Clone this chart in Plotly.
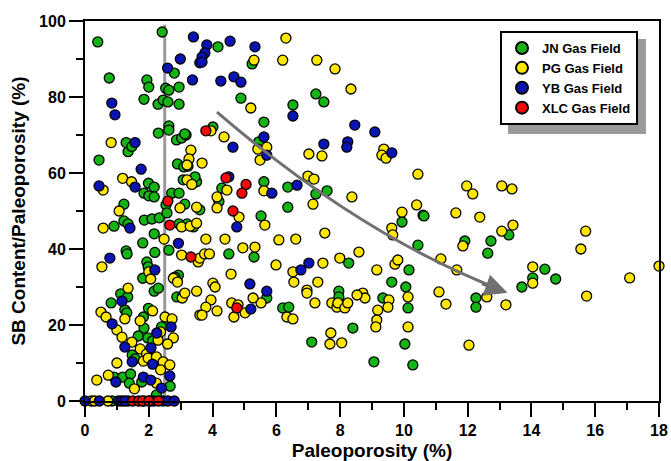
import plotly.graph_objects as go

# ---------------- data (Paleoporosity %, SB content/Paleoporosity %) ----------------
jn_x = [0.40, 2.42, 0.76, 1.29, 1.35, 1.47, 0.44, 1.99, 2.17, 1.85, 2.00, 2.17, 1.22, 1.94, 2.00, 1.85, 2.29, 2.45,
        2.60, 2.53, 2.63, 2.95, 2.95, 2.80, 2.30, 2.63, 2.63, 2.87, 3.03, 3.17, 2.90, 3.10, 3.23, 3.08, 3.50, 2.54,
        2.72, 2.95, 3.13, 1.86, 2.10, 2.33, 2.57, 0.91, 1.22, 1.35, 2.95, 3.20, 3.40,
        2.17, 1.81, 1.29, 1.32, 2.19, 2.63, 1.94, 1.98, 1.81, 2.17, 2.30, 2.93, 2.82, 2.88, 3.06, 0.82, 1.12, 1.34,
        1.25, 1.31, 1.83, 1.99, 1.85, 2.61, 1.67, 1.97, 2.12, 2.40, 1.48, 1.57, 0.91, 1.18, 1.43, 1.39, 1.78, 2.67,
        2.24,
        4.17, 5.24, 4.89, 7.24, 7.49, 6.52, 5.61, 4.01, 5.45, 3.13, 3.45, 4.29, 4.20, 5.61, 5.52, 6.36, 6.36, 7.24,
        7.59, 9.94, 10.60, 3.60, 10.44, 5.30, 4.51, 8.27, 10.16, 9.62, 10.06, 10.13, 10.03, 10.28, 9.06, 9.34, 8.40,
        7.96, 7.96, 7.11, 6.20, 6.39, 5.70, 10.63, 13.29, 11.91, 12.73, 12.63, 12.26, 12.26, 13.70, 14.04, 14.42,
        14.76,
        0.85, 1.35, 2.05]
jn_y = [94.5, 97.1, 85.0, 68.0, 65.6, 67.0, 63.4, 57.3, 56.3, 54.7, 54.0, 53.7, 51.8, 84.5, 82.6, 79.4, 78.1, 79.2,
        78.7, 82.3, 81.8, 82.6, 78.1, 86.3, 70.5, 72.4, 71.3, 68.7, 69.2, 70.0, 62.4, 61.6, 61.8, 58.2, 57.7, 51.6,
        54.7, 54.7, 51.8, 47.6, 47.9, 48.2, 49.5, 46.0, 47.4, 46.6, 46.6, 46.6, 45.8,
        44.0, 41.6, 39.5, 38.7, 39.1, 39.7, 36.6, 35.3, 32.3, 28.9, 29.7, 33.1, 32.6, 27.4, 27.6, 25.8, 28.2, 27.4,
        24.0, 23.2, 22.1, 24.4, 19.2, 20.8, 17.1, 16.6, 15.8, 19.5, 12.1, 11.1, 6.3, 6.3, 7.1, 4.7, 5.0, 3.9,
        1.6,
        93.2, 88.7, 79.7, 80.8, 78.7, 77.9, 73.4, 72.1, 68.2, 70.3, 59.0, 56.0, 52.5, 57.7, 48.7, 56.3, 51.0, 54.5,
        55.3, 47.1, 48.9, 50.3, 41.0, 37.9, 38.7, 36.3, 34.5, 31.3, 30.0, 24.5, 15.0, 9.5, 10.3, 27.1, 19.2,
        28.9, 27.4, 15.5, 24.5, 24.7, 27.1, 48.7, 43.7, 42.1, 42.1, 38.9, 27.1, 24.7, 30.0, 32.4, 34.7,
        32.1,
        0.0, 0.0, 0.0]

pg_x = [0.82, 0.57, 1.18, 1.46, 1.07, 3.32, 3.26, 3.20, 3.67, 3.20, 3.35, 2.98, 3.50, 0.57, 3.03, 3.30, 3.50, 2.48,
        3.03, 3.55, 0.53, 2.00, 2.06, 2.77, 2.90, 3.50, 3.05, 3.60, 1.35, 1.25, 0.50, 0.66, 1.00, 1.73, 2.12, 2.51,
        2.73, 1.16, 1.47, 2.37, 2.77, 2.59, 1.73, 1.93, 1.83, 1.98, 1.00, 2.24, 2.45, 2.37, 0.73, 0.37, 1.55, 2.24,
        2.29, 2.66, 3.13,
        6.30, 5.30, 6.20, 7.27, 7.84, 8.34, 5.20, 3.95, 4.36, 5.42, 5.70, 5.49, 7.02, 7.43, 9.37, 9.31, 9.44, 10.44,
        4.45, 4.14, 4.14, 4.83, 5.61, 5.64, 6.99, 7.18, 7.15, 8.37, 9.94, 10.40, 9.62, 7.52, 9.65, 3.79, 4.39, 4.95,
        5.33, 6.08, 6.61, 3.60, 3.75, 3.90, 4.58, 5.99, 6.52, 6.55, 7.46, 7.99, 8.59, 9.15, 9.72, 9.81, 10.13, 10.13,
        9.53, 9.50, 9.18, 9.15, 9.12, 8.71, 8.78, 8.53, 7.74, 7.90, 7.93, 8.15, 8.24, 7.21, 7.30, 6.96, 6.96, 7.71,
        7.68, 8.05, 6.33, 6.52, 5.52, 5.27, 4.60, 4.80, 5.02, 4.67, 4.01, 4.08, 3.95, 3.79, 3.67, 4.14,
        11.97, 12.16, 13.07, 13.39, 11.63, 12.38, 13.07, 13.42, 11.85, 11.16, 11.66, 11.10, 11.32, 12.60, 13.20,
        12.04, 14.04, 14.04, 15.70, 15.55, 15.73, 17.08, 18.00,
        0.20, 0.30, 0.72]
pg_y = [68.0, 55.5, 58.6, 57.7, 50.0, 66.0, 63.7, 62.1, 62.6, 58.2, 57.0, 50.8, 51.0, 45.5, 45.8, 46.0, 46.8, 42.6,
        38.4, 36.6, 35.3, 34.0, 32.1, 32.3, 31.3, 28.9, 27.1, 22.6, 29.7, 21.6, 23.4, 22.1, 18.7, 21.1, 23.7, 22.1,
        21.6, 16.8, 15.5, 18.2, 16.6, 15.0, 13.7, 12.4, 10.5, 11.3, 10.0, 11.6, 10.3, 8.2, 6.8, 5.5, 3.2, 4.7,
        16.0, 9.5, 28.4,
        95.5, 89.7, 89.7, 89.7, 87.4, 82.1, 77.1, 71.1, 69.5, 66.3, 66.8, 63.4, 65.0, 64.5, 66.3, 64.7, 63.9, 59.7,
        55.5, 53.7, 50.8, 48.4, 55.3, 46.3, 59.2, 58.4, 51.8, 53.7, 49.7, 51.6, 45.5, 44.2, 43.7, 42.6, 42.6, 40.3,
        40.5, 42.4, 42.6, 37.6, 38.7, 38.7, 33.4, 35.8, 34.0, 31.3, 36.3, 37.6, 39.2, 34.5, 36.0, 37.1, 27.4, 19.5,
        26.6, 24.7, 23.9, 21.3, 19.5, 28.4, 27.1, 27.9, 25.8, 24.7, 25.8, 24.5, 25.8, 25.8, 31.3, 29.2, 28.4, 17.9,
        15.0, 15.3, 22.1, 21.6, 25.8, 27.1, 25.8, 25.3, 23.2, 22.1, 31.0, 30.0, 26.6, 24.7, 22.6, 23.7,
        56.6, 54.5, 56.6, 55.8, 49.5, 48.4, 44.7, 46.3, 40.8, 37.4, 34.5, 28.7, 25.5, 27.4, 25.3,
        14.7, 35.3, 31.0, 44.7, 40.0, 27.6, 32.4, 35.5,
        0.0, 0.0, 0.0]

yb_x = [0.84, 0.94, 1.57, 1.76, 0.44, 1.57, 2.59, 2.99, 3.40, 3.37, 3.60, 1.41, 2.93, 0.78, 2.19, 1.16, 0.85, 2.70,
        2.25, 1.25, 2.07, 1.48, 2.12, 0.97, 1.83, 2.06, 2.40, 2.66,
        3.82, 3.76, 3.67, 3.67, 4.55, 5.33, 4.26, 4.67, 4.89, 6.52, 8.46, 9.09, 4.64, 5.61, 5.70, 7.49, 8.24, 8.21,
        9.62, 4.51, 4.76, 5.86, 6.65, 6.77, 7.02, 5.70, 5.17, 5.20,
        0.00, 0.45, 1.05, 1.15, 1.25, 1.85, 2.15, 2.45, 2.60, 2.80]
yb_y = [78.4, 75.3, 68.0, 61.0, 56.6, 56.3, 87.6, 90.0, 95.8, 84.5, 89.0, 45.5, 41.5, 37.6, 34.5, 26.3, 20.3, 19.5,
        17.9, 14.2, 14.0, 10.3, 9.7, 5.0, 6.3, 5.5, 3.4, 6.6,
        93.7, 91.6, 90.5, 89.2, 94.7, 93.2, 84.2, 85.3, 83.9, 75.0, 72.6, 70.8, 66.8, 69.5, 64.7, 67.6, 68.2, 66.8,
        65.3, 59.0, 45.8, 54.7, 56.8, 34.5, 36.3, 28.9, 30.8, 24.2,
        0.0, 0.0, 0.0, 0.0, 0.0, 0.0, 0.0, 0.0, 0.0, 0.0]

xlc_x = [2.60, 2.66, 3.32, 3.79, 4.42, 5.05, 4.92, 4.64, 4.76, 1.50, 1.68, 1.80, 2.00, 2.30]
xlc_y = [52.6, 46.3, 37.9, 71.1, 58.7, 57.0, 54.7, 50.0, 24.5, 0.0, 0.0, 0.0, 0.0, 0.0]

series = [
    ("JN Gas Field", jn_x, jn_y, "#14B414"),
    ("PG Gas Field", pg_x, pg_y, "#FFE600"),
    ("YB Gas Field", yb_x, yb_y, "#0A14B4"),
    ("XLC Gas Field", xlc_x, xlc_y, "#F00A0A"),
]

# decorations (data coordinates)
cutoff_x = 2.5
trend_start = (4.14, 76.0)
trend_ctrl = (8.62, 43.7)
trend_end = (13.0, 29.4)
arrow_tip = (13.25, 28.5)

FONT = "Liberation Sans, Arial, Helvetica, sans-serif"

fig = go.Figure()
for name, xs, ys, col in series:
    fig.add_trace(go.Scatter(
        x=xs, y=ys, mode="markers", name=name, cliponaxis=False,
        marker=dict(size=10, color=col, line=dict(color="black", width=1.3)),
    ))

fig.add_shape(type="line", xref="x", yref="y", x0=cutoff_x, x1=cutoff_x, y0=0, y1=99,
              line=dict(color="#9a9a9a", width=3), layer="below")
fig.add_shape(type="path", xref="x", yref="y",
              path=f"M {trend_start[0]},{trend_start[1]} Q {trend_ctrl[0]},{trend_ctrl[1]} {trend_end[0]},{trend_end[1]}",
              line=dict(color="#707070", width=3))
fig.add_annotation(x=arrow_tip[0], y=arrow_tip[1], ax=trend_end[0] - 0.6, ay=trend_end[1] + 1.6,
                   xref="x", yref="y", axref="x", ayref="y", text="", showarrow=True,
                   arrowhead=2, arrowsize=1.5, arrowwidth=3, arrowcolor="#707070")

# legend shadow (offset below/right of the legend box)
fig.add_shape(type="rect", xref="paper", yref="paper",
              x0=(508 - 85) / 574, x1=(646 - 85) / 574, y0=(401 - 134) / 380, y1=(401 - 39) / 380,
              fillcolor="#9a9a9a", line=dict(width=0), layer="above")

axis_common = dict(
    showline=True, linecolor="black", linewidth=2, mirror=True,
    ticks="outside", tickwidth=2, tickcolor="black", ticklen=14,
    showgrid=False, zeroline=False,
    tickfont=dict(family=FONT, size=16, color="black", weight="bold"),
)

fig.update_xaxes(range=[0, 18], tick0=0, dtick=2,
                 minor=dict(dtick=1, ticks="outside", ticklen=7, tickwidth=2, tickcolor="black"),
                 title=dict(text="Paleoporosity (%)", standoff=5,
                            font=dict(family=FONT, size=19, color="black", weight="bold")),
                 **axis_common)
fig.update_yaxes(range=[0, 100], tick0=0, dtick=20,
                 minor=dict(dtick=10, ticks="outside", ticklen=7, tickwidth=2, tickcolor="black"),
                 title=dict(text="SB Content/Paleoporosity (%)", standoff=8,
                            font=dict(family=FONT, size=19, color="black", weight="bold")),
                 **axis_common)

fig.update_layout(
    width=671, height=461,
    margin=dict(l=85, r=12, t=21, b=60, autoexpand=False),
    paper_bgcolor="white", plot_bgcolor="white",
    showlegend=True,
    legend=dict(x=(500 - 85) / 574, y=(401 - 31) / 380, xanchor="left", yanchor="top",
                bgcolor="white", bordercolor="black", borderwidth=2,
                font=dict(family=FONT, size=13, color="black", weight="bold"),
                tracegroupgap=0, itemsizing="constant"),
)

fig.write_html("out.html")
